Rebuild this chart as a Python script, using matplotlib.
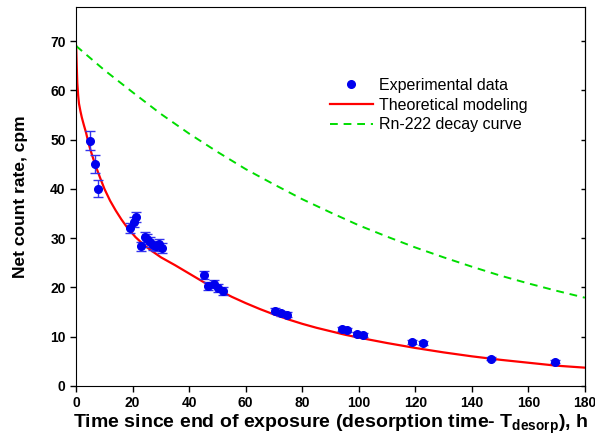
import numpy as np
import matplotlib.pyplot as plt
from matplotlib.lines import Line2D

plt.rcParams['font.family'] = ['Liberation Sans', 'DejaVu Sans']
plt.rcParams['mathtext.fontset'] = 'custom'
plt.rcParams['mathtext.rm'] = 'Liberation Sans:bold'
plt.rcParams['mathtext.default'] = 'rm'

# experimental points (time h, count rate cpm, error)
t_exp = [4.9, 6.7, 7.7, 19.1, 20.3, 21.2, 22.9, 24.2, 25.2, 26.3, 27.3, 28.2, 29.2, 30.2,
         45.4, 46.8, 48.6, 50.3, 51.9, 70.4, 72.4, 74.5,
         94.0, 96.0, 99.2, 101.4, 118.9, 122.6, 146.9, 169.4]
y_exp = [49.8, 45.0, 40.0, 32.0, 33.2, 34.3, 28.3, 30.2, 29.8, 29.2, 28.5, 28.3, 28.8, 28.0,
         22.5, 20.3, 20.7, 19.8, 19.2, 15.3, 14.7, 14.4,
         11.5, 11.3, 10.6, 10.4, 8.9, 8.8, 5.5, 4.9]
y_err = [1.9, 1.8, 1.7, 1.0, 1.0, 1.1, 1.0, 1.0, 1.0, 1.0, 1.0, 1.0, 1.0, 1.0,
         0.9, 0.8, 0.8, 0.8, 0.8, 0.6, 0.5, 0.5,
         0.4, 0.4, 0.4, 0.4, 0.4, 0.4, 0.3, 0.3]

# theoretical model curve
t_model = [0, 0.2, 0.4, 0.7, 1.0, 1.5, 2, 2.7, 3.5, 4.2, 5, 6, 7, 8.5, 10, 12, 14, 16, 18,
           21, 24, 27, 30, 35, 40, 45, 50, 55, 60, 65, 70, 75, 80, 85, 90, 95, 100,
           110, 120, 130, 140, 150, 160, 170, 180]
y_model = [69, 65, 61.5, 59, 57.3, 55.8, 54.5, 53, 51.4, 49.7, 48, 46.2, 44.5, 42.2, 40,
           37.6, 35.6, 33.8, 32.2, 30.2, 28.6, 27.3, 26.1, 24.5, 22.8, 21.1, 19.6, 18.1,
           16.8, 15.6, 14.5, 13.5, 12.6, 11.8, 11.1, 10.4, 9.8, 8.7, 7.7, 6.8, 6.0, 5.3,
           4.7, 4.1, 3.7]

# Rn-222 decay curve
t_rn = [0, 10, 20, 30, 40, 50, 60, 70, 80, 90, 100, 110, 120, 130, 140, 150, 160, 170, 180]
y_rn = [69, 64.1, 59.6, 55.2, 51.2, 47.5, 44.0, 40.9, 37.9, 35.2, 32.6, 30.3, 28.1, 26.1,
        24.2, 22.4, 20.8, 19.3, 17.9]

fig = plt.figure(figsize=(5.95, 4.4), dpi=100)
ax = fig.add_axes([0.128, 0.123, 0.855, 0.862])

ax.errorbar(t_exp, y_exp, yerr=y_err, fmt='o', color='#0000ee', ms=5.5,
            ecolor='#3333ee', elinewidth=1, capsize=3.5, capthick=1, zorder=3)
ax.plot(t_model, y_model, color='#ff0000', lw=1.6, zorder=2)
ax.plot(t_rn, y_rn, color='#00dd00', lw=1.4, ls=(0, (4, 3)), zorder=2)

ax.set_xlim(0, 180)
ax.set_ylim(0, 77)
ax.set_xticks(np.arange(0, 181, 20))
ax.set_yticks(np.arange(0, 71, 10))
ax.tick_params(direction='out', length=4, width=1, labelsize=10)
for lab in ax.get_xticklabels() + ax.get_yticklabels():
    lab.set_fontweight('bold')

# small inward ticks on the right spine
sec = ax.secondary_yaxis('right')
sec.set_yticks(np.arange(0, 71, 10))
sec.tick_params(direction='in', length=3, width=1, labelright=False)

ax.set_xlabel(r'Time since end of exposure (desorption time- T$_{desorp}$), h',
              fontsize=14, fontweight='bold', labelpad=2)
ax.set_ylabel('Net count rate, cpm', fontsize=12.5, fontweight='bold', labelpad=16)

handles = [
    Line2D([], [], ls='none', marker='o', color='#0000ee', ms=5.5),
    Line2D([], [], color='#ff0000', lw=1.6),
    Line2D([], [], color='#00dd00', lw=1.4, ls=(0, (4, 3))),
]
labels = ['Experimental data', 'Theoretical modeling', 'Rn-222 decay curve']
ax.legend(handles, labels, loc='upper left', bbox_to_anchor=(0.47, 0.85), frameon=False,
          fontsize=11.5, handlelength=2.7, handletextpad=0.4, labelspacing=0.3)

fig.savefig('out.png', dpi=100)
